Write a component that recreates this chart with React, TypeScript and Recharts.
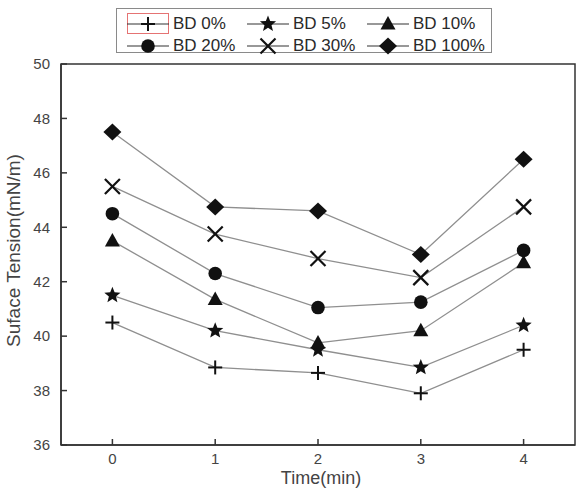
import React from "react";
import {
    LineChart,
    Line,
    XAxis,
    YAxis,
    ReferenceArea,
} from "recharts";

// time axis (min)
const times = [0, 1, 2, 3, 4];

// surface tension readings (mN/m), one array per blend
const bd0 = [40.5, 38.85, 38.65, 37.9, 39.5];
const bd5 = [41.5, 40.2, 39.5, 38.85, 40.4];
const bd10 = [43.5, 41.35, 39.75, 40.2, 42.7];
const bd20 = [44.5, 42.3, 41.05, 41.25, 43.15];
const bd30 = [45.5, 43.75, 42.85, 42.15, 44.75];
const bd100 = [47.5, 44.75, 44.6, 43.0, 46.5];

const xTicks = [0, 1, 2, 3, 4];
const yTicks = [36, 38, 40, 42, 44, 46, 48, 50];

type MarkerKind = "plus" | "star" | "triangle" | "circle" | "cross" | "diamond";

const series: { key: string; name: string; values: number[]; marker: MarkerKind }[] = [
    { key: "bd0", name: "BD 0%", values: bd0, marker: "plus" },
    { key: "bd5", name: "BD 5%", values: bd5, marker: "star" },
    { key: "bd10", name: "BD 10%", values: bd10, marker: "triangle" },
    { key: "bd20", name: "BD 20%", values: bd20, marker: "circle" },
    { key: "bd30", name: "BD 30%", values: bd30, marker: "cross" },
    { key: "bd100", name: "BD 100%", values: bd100, marker: "diamond" },
];

const data = times.map((t, i) => {
    const row: Record<string, number> = { time: t };
    series.forEach((s) => {
        row[s.key] = s.values[i];
    });
    return row;
});

const FONT = "'Liberation Sans', Arial, sans-serif";
const INK = "#111";

function starPath(cx: number, cy: number, ro: number, ri: number) {
    const pts: string[] = [];
    for (let i = 0; i < 10; i++) {
        const r = i % 2 === 0 ? ro : ri;
        const a = -Math.PI / 2 + (i * Math.PI) / 5;
        pts.push(`${cx + r * Math.cos(a)},${cy + r * Math.sin(a)}`);
    }
    return `M${pts.join("L")}Z`;
}

function Marker({ kind, cx, cy }: { kind: MarkerKind; cx: number; cy: number }) {
    switch (kind) {
        case "plus":
            return (
                <g stroke={INK} strokeWidth={2}>
                    <line x1={cx - 7} y1={cy} x2={cx + 7} y2={cy} />
                    <line x1={cx} y1={cy - 7} x2={cx} y2={cy + 7} />
                </g>
            );
        case "star":
            return <path d={starPath(cx, cy, 8.5, 3.7)} fill={INK} />;
        case "triangle":
            return (
                <path
                    d={`M${cx},${cy - 8}L${cx + 7.5},${cy + 5.5}L${cx - 7.5},${cy + 5.5}Z`}
                    fill={INK}
                />
            );
        case "circle":
            return <circle cx={cx} cy={cy} r={6.8} fill={INK} />;
        case "cross":
            return (
                <g stroke={INK} strokeWidth={2.2}>
                    <line x1={cx - 7.5} y1={cy - 7.5} x2={cx + 7.5} y2={cy + 7.5} />
                    <line x1={cx - 7.5} y1={cy + 7.5} x2={cx + 7.5} y2={cy - 7.5} />
                </g>
            );
        default:
            return (
                <path
                    d={`M${cx},${cy - 8.5}L${cx + 9},${cy}L${cx},${cy + 8.5}L${cx - 9},${cy}Z`}
                    fill={INK}
                />
            );
    }
}

const makeDot = (kind: MarkerKind) => (props: any) => {
    const { cx, cy, index } = props;
    if (cx == null || cy == null) return <g key={index} />;
    return (
        <g key={`${kind}-${index}`}>
            <Marker kind={kind} cx={cx} cy={cy} />
        </g>
    );
};

// legend drawn as an overlay box above the plot
function LegendBox() {
    return (
        <div
            style={{
                position: "absolute",
                left: 116,
                top: 8,
                width: 376,
                height: 45,
                border: "1px solid #8a8a8a",
                boxSizing: "border-box",
                fontFamily: FONT,
                fontSize: 17,
                color: "#2a2a2a",
            }}
        >
            {series.map((s, i) => {
                const col = i % 3;
                const row = Math.floor(i / 3);
                return (
                    <div
                        key={s.key}
                        style={{
                            position: "absolute",
                            left: 10 + col * 120,
                            top: 4 + row * 22,
                            height: 22,
                            display: "flex",
                            alignItems: "center",
                            whiteSpace: "nowrap",
                        }}
                    >
                        <svg width={42} height={22} style={{ marginRight: 4 }}>
                            {i === 0 && (
                                <rect x={0.5} y={0.5} width={41} height={20} fill="none" stroke="#e57373" />
                            )}
                            <line x1={0} y1={11} x2={42} y2={11} stroke="#333" strokeWidth={1.2} />
                            <Marker kind={s.marker} cx={21} cy={11} />
                        </svg>
                        <span>{s.name}</span>
                    </div>
                );
            })}
        </div>
    );
}

const YLabel = (props: any) => {
    const vb = props.viewBox;
    const x = vb.x + 20;
    const y = vb.y + vb.height / 2 - 4;
    return (
        <text
            x={x}
            y={y}
            transform={`rotate(-90, ${x}, ${y})`}
            textAnchor="middle"
            fontFamily={FONT}
            fontSize={19}
            fill="#444"
        >
            Suface Tension(mN/m)
        </text>
    );
};

const XLabel = (props: any) => {
    const vb = props.viewBox;
    return (
        <text
            x={vb.x + vb.width / 2 + 3}
            y={vb.y + 39}
            textAnchor="middle"
            fontFamily={FONT}
            fontSize={18}
            fill="#444"
        >
            Time(min)
        </text>
    );
};

export default function App() {
    return (
        <div style={{ position: "absolute", left: 0, top: 0, width: 586, height: 488, background: "#fff" }}>
            <LineChart
                width={586}
                height={488}
                data={data}
                margin={{ top: 64, right: 11, left: 0, bottom: 0 }}
            >
                <XAxis
                    dataKey="time"
                    type="number"
                    domain={[-0.5, 4.5]}
                    ticks={xTicks}
                    height={43}
                    tickSize={-6}
                    tickMargin={14}
                    stroke="#333"
                    strokeWidth={1.5}
                    tick={{ fill: "#444", fontSize: 15, fontFamily: FONT }}
                    label={{ content: XLabel }}
                />
                <YAxis
                    type="number"
                    domain={[36, 50]}
                    ticks={yTicks}
                    width={61}
                    tickSize={-6}
                    tickMargin={17}
                    stroke="#333"
                    strokeWidth={1.5}
                    tick={{ fill: "#444", fontSize: 15, fontFamily: FONT }}
                    label={{ content: YLabel }}
                />
                <ReferenceArea
                    x1={-0.5}
                    x2={4.5}
                    y1={36}
                    y2={50}
                    fill="none"
                    stroke="#333"
                    strokeWidth={1.5}
                />
                {series.map((s) => (
                    <Line
                        key={s.key}
                        type="linear"
                        dataKey={s.key}
                        name={s.name}
                        stroke="#8f8f8f"
                        strokeWidth={1.3}
                        dot={makeDot(s.marker)}
                        activeDot={false}
                        isAnimationActive={false}
                    />
                ))}
            </LineChart>
            <LegendBox />
        </div>
    );
}
